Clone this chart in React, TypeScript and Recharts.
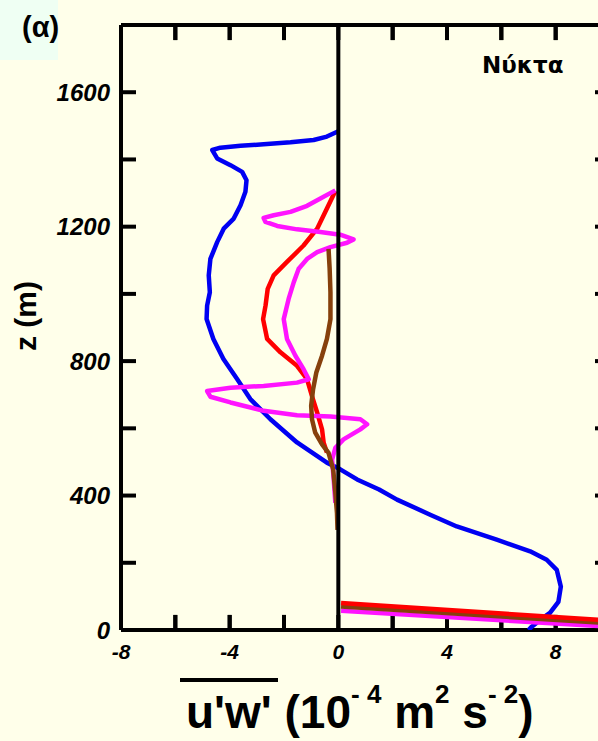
import { ScatterChart, Scatter, XAxis, YAxis } from "recharts";

// momentum flux profiles, u'w' in 10^-4 m2 s-2 against height z in m
const blueProfile = [
  { u: 0.0, z: 1484 }, { u: -0.42, z: 1468 }, { u: -0.91, z: 1458 }, { u: -1.76, z: 1451 },
  { u: -2.75, z: 1445 }, { u: -3.6, z: 1441 }, { u: -4.34, z: 1435 }, { u: -4.64, z: 1428 },
  { u: -4.46, z: 1403 }, { u: -3.97, z: 1383 }, { u: -3.54, z: 1363 }, { u: -3.38, z: 1338 },
  { u: -3.42, z: 1304 }, { u: -3.6, z: 1264 }, { u: -3.85, z: 1224 }, { u: -4.22, z: 1194 },
  { u: -4.46, z: 1154 }, { u: -4.71, z: 1104 }, { u: -4.77, z: 1055 }, { u: -4.73, z: 1005 },
  { u: -4.83, z: 965 }, { u: -4.85, z: 925 }, { u: -4.6, z: 866 }, { u: -4.23, z: 806 },
  { u: -3.72, z: 746 }, { u: -3.24, z: 687 }, { u: -2.5, z: 627 }, { u: -1.52, z: 558 },
  { u: -0.42, z: 498 }, { u: 0.07, z: 478 }, { u: 0.69, z: 448 }, { u: 1.5, z: 418 },
  { u: 2.16, z: 388 }, { u: 3.38, z: 343 }, { u: 4.36, z: 308 }, { u: 5.83, z: 269 },
  { u: 7.06, z: 234 }, { u: 7.67, z: 209 }, { u: 8.04, z: 179 }, { u: 8.19, z: 129 },
  { u: 8.1, z: 84 }, { u: 7.79, z: 51 }, { u: 7.43, z: 30 }, { u: 7.12, z: 10 }, { u: 7.0, z: 0 },
];

const redProfile = [
  { u: -0.11, z: 1306 }, { u: -0.42, z: 1254 }, { u: -0.78, z: 1194 }, { u: -1.28, z: 1144 },
  { u: -1.89, z: 1095 }, { u: -2.38, z: 1055 }, { u: -2.6, z: 1015 }, { u: -2.68, z: 965 },
  { u: -2.77, z: 925 }, { u: -2.62, z: 866 }, { u: -2.13, z: 826 }, { u: -1.52, z: 786 },
  { u: -1.15, z: 746 }, { u: -0.97, z: 696 }, { u: -0.78, z: 647 }, { u: -0.6, z: 597 },
  { u: -0.54, z: 557 }, { u: -0.42, z: 528 },
];
const redSurface = [{ u: 0.1, z: 80 }, { u: 10, z: 28 }];

const magentaProfile = [
  { u: -0.11, z: 1308 }, { u: -0.66, z: 1284 }, { u: -1.15, z: 1262 }, { u: -1.76, z: 1244 },
  { u: -2.38, z: 1234 }, { u: -2.75, z: 1226 }, { u: -2.68, z: 1214 }, { u: -2.25, z: 1202 },
  { u: -1.52, z: 1192 }, { u: -0.66, z: 1184 }, { u: 0.07, z: 1176 }, { u: 0.56, z: 1162 },
  { u: 0.32, z: 1152 }, { u: -0.29, z: 1139 }, { u: -0.78, z: 1124 }, { u: -1.15, z: 1104 },
  { u: -1.46, z: 1075 }, { u: -1.64, z: 1035 }, { u: -1.83, z: 985 }, { u: -2.01, z: 925 },
  { u: -1.89, z: 866 }, { u: -1.58, z: 816 }, { u: -1.28, z: 776 }, { u: -1.09, z: 746 },
  { u: -1.52, z: 736 }, { u: -2.75, z: 726 }, { u: -3.97, z: 721 }, { u: -4.83, z: 711 },
  { u: -4.71, z: 694 }, { u: -3.97, z: 677 }, { u: -2.75, z: 652 }, { u: -1.52, z: 639 },
  { u: -0.29, z: 635 }, { u: 0.81, z: 627 }, { u: 1.06, z: 612 }, { u: 0.81, z: 597 },
  { u: 0.19, z: 567 }, { u: -0.11, z: 542 }, { u: -0.23, z: 507 }, { u: -0.17, z: 448 },
  { u: -0.11, z: 378 },
];
const magentaSurface = [{ u: 0.1, z: 57 }, { u: 10, z: 10 }];

const brownProfile = [
  { u: -0.36, z: 1134 }, { u: -0.32, z: 1075 }, { u: -0.29, z: 1005 }, { u: -0.29, z: 925 },
  { u: -0.42, z: 866 }, { u: -0.6, z: 816 }, { u: -0.81, z: 766 }, { u: -0.93, z: 716 },
  { u: -1.0, z: 667 }, { u: -0.97, z: 627 }, { u: -0.85, z: 587 }, { u: -0.6, z: 552 },
  { u: -0.36, z: 527 }, { u: -0.19, z: 478 }, { u: -0.11, z: 408 }, { u: -0.05, z: 348 },
  { u: -0.03, z: 298 },
];
const brownSurface = [{ u: 0.1, z: 70 }, { u: 10, z: 20 }];

// vertical u'w' = 0 reference
const zeroLine = [{ u: 0, z: 0 }, { u: 0, z: 1800 }];

const xTicks = [-8, -6, -4, -2, 0, 2, 4, 6, 8, 10];
const xInnerTicks = [-6, -4, -2, 2, 4, 6, 8];
const zTicks = [0, 200, 400, 600, 800, 1000, 1200, 1400, 1600, 1800];
const Z_MIN = 0;
const Z_MAX = 1800;
const TICK_Z = 45; // inward x tick length in z units (~15px)

const BLUE = "#0000f2";
const RED = "#ff0000";
const MAGENTA = "#ff14ff";
const BROWN = "#86400c";
const FONT = "Liberation Sans, Arial, sans-serif";
const TICK_LEN = 15;

const tickFont = { fill: "#000", fontSize: 24, fontWeight: "bold", fontStyle: "italic", fontFamily: FONT };

const noDot = () => <g />;
const noLabel = () => <g />;
// labels only every 4 units on x and every 400 m on z
const xLabel = (v: number) => (v % 4 === 0 ? String(v) : "");
const zLabel = (v: number) => (v % 400 === 0 && v < 1800 ? String(v) : "");

function profileLine(data: { u: number; z: number }[], color: string, key: string, xId: string, yId: string, width = 4.5) {
  return (
    <Scatter
      key={key}
      xAxisId={xId}
      yAxisId={yId}
      data={data}
      fill={color}
      shape={noDot}
      line={{ stroke: color, strokeWidth: width, strokeLinejoin: "round" }}
      isAnimationActive={false}
      legendType="none"
    />
  );
}

const sup = { fontSize: 26, position: "relative" as const, top: -25 };

export default function App() {
  return (
    <div
      style={{
        position: "absolute",
        left: 0,
        top: 0,
        width: 598,
        height: 741,
        overflow: "hidden",
        background: "#ffffea",
        fontFamily: FONT,
        fontWeight: "bold",
        color: "#000",
      }}
    >
      <div style={{ position: "absolute", left: 0, top: 0, width: 58, height: 60, background: "#effff3" }} />
      <ScatterChart width={700} height={741} margin={{ top: 25, right: 90, bottom: 110, left: 120 }}>
        <XAxis xAxisId="b" type="number" dataKey="u" domain={[-8, 10]} allowDataOverflow orientation="bottom"
          height={1} ticks={xTicks} interval={0} tickSize={-TICK_LEN} tickMargin={29} tickFormatter={xLabel}
          axisLine={{ stroke: "#000", strokeWidth: 4 }} tickLine={{ stroke: "#000", strokeWidth: 4 }}
          tick={{ ...tickFont, fontSize: 21 }} />
        <XAxis xAxisId="t" type="number" dataKey="u" domain={[-8, 10]} allowDataOverflow orientation="top"
          height={1} mirror ticks={xTicks} interval={0} tick={noLabel} tickSize={TICK_LEN}
          axisLine={{ stroke: "#000", strokeWidth: 4 }} tickLine={{ stroke: "#000", strokeWidth: 4 }} />
        <YAxis yAxisId="l" type="number" dataKey="z" domain={[Z_MIN, Z_MAX]} allowDataOverflow orientation="left"
          width={1} ticks={zTicks} interval={0} tickSize={-TICK_LEN} tickMargin={26} tickFormatter={zLabel}
          axisLine={{ stroke: "#000", strokeWidth: 4 }} tickLine={{ stroke: "#000", strokeWidth: 4 }}
          tick={tickFont} />
        <YAxis yAxisId="r" type="number" dataKey="z" domain={[Z_MIN, Z_MAX]} allowDataOverflow orientation="right"
          width={1} mirror ticks={zTicks} interval={0} tick={noLabel} tickSize={TICK_LEN}
          axisLine={{ stroke: "#000", strokeWidth: 4 }} tickLine={{ stroke: "#000", strokeWidth: 4 }} />
        {xInnerTicks.map((v) =>
          profileLine([{ u: v, z: Z_MIN }, { u: v, z: Z_MIN + TICK_Z }], "#000", `tb${v}`, "b", "l", 4)
        )}
        {xInnerTicks.map((v) =>
          profileLine([{ u: v, z: Z_MAX }, { u: v, z: Z_MAX - TICK_Z }], "#000", `tt${v}`, "b", "l", 4)
        )}
        {profileLine(blueProfile, BLUE, "blue", "b", "l")}
        {profileLine(magentaSurface, MAGENTA, "magentaSurface", "t", "r")}
        {profileLine(brownSurface, BROWN, "brownSurface", "t", "r")}
        {profileLine(redSurface, RED, "redSurface", "t", "r")}
        {profileLine(redProfile, RED, "red", "b", "l")}
        {profileLine(magentaProfile, MAGENTA, "magenta", "b", "l")}
        {profileLine(brownProfile, BROWN, "brown", "t", "r")}
        {profileLine(zeroLine, "#000", "zero", "b", "l", 4)}
      </ScatterChart>
      <div style={{ position: "absolute", left: 22, top: 13, fontSize: 29, lineHeight: "29px", whiteSpace: "pre" }}>
        (α)
      </div>
      <div style={{ position: "absolute", left: 482, top: 54, fontSize: 23, lineHeight: "23px", whiteSpace: "pre",
        fontFamily: "DejaVu Sans, sans-serif" }}>
        Νύκτα
      </div>
      <div style={{ position: "absolute", left: -34, top: 301, width: 120, height: 30, fontSize: 30, lineHeight: "30px",
        textAlign: "center", transform: "rotate(-90deg)", whiteSpace: "pre" }}>
        z (m)
      </div>
      <div style={{ position: "absolute", left: 180, top: 678, width: 98, height: 4, background: "#000" }} />
      <div style={{ position: "absolute", left: 186, top: 689, fontSize: 46, lineHeight: "46px", whiteSpace: "pre" }}>
        {"u'w' (10"}
        <span style={sup}>{"- 4"}</span>
        {" m"}
        <span style={sup}>2</span>
        {" s"}
        <span style={sup}>{"- 2"}</span>
        {")"}
      </div>
    </div>
  );
}
